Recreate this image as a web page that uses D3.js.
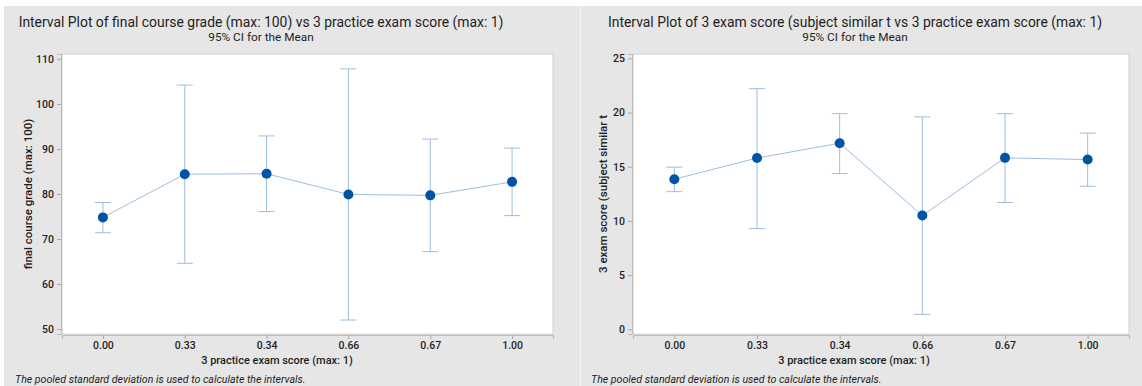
<!DOCTYPE html>
<html>
<head>
<meta charset="utf-8">
<script src="https://d3js.org/d3.v7.min.js"></script>
<style>
  body { margin: 0; background: #fff; }
  svg text { font-family: Roboto, "Open Sans", sans-serif; fill: #1e1e1e; }
</style>
</head>
<body>
<div id="vis"></div>
<script>

// x categories (3 practice exam score)
var categories = ["0.00", "0.33", "0.34", "0.66", "0.67", "1.00"];

// left panel: final course grade
var gradeMean = [74.8, 84.4, 84.5, 79.9, 79.7, 82.7];
var gradeLow  = [71.4, 64.6, 76.1, 52.0, 67.2, 75.2];
var gradeHigh = [78.1, 104.2, 92.9, 107.8, 92.2, 90.2];
var gradeTicks = [50, 60, 70, 80, 90, 100, 110];

// right panel: 3 exam score
var examMean = [13.85, 15.8, 17.17, 10.5, 15.82, 15.66];
var examLow  = [12.7, 9.3, 14.37, 1.38, 11.7, 13.2];
var examHigh = [14.96, 22.2, 19.9, 19.6, 19.9, 18.1];
var examTicks = [0, 5, 10, 15, 20, 25];

var svg = d3.select("#vis").append("svg")
  .attr("width", 1142)
  .attr("height", 386);

var panels = [
  {
    x0: 4, x1: 580,
    title: "Interval Plot of final course grade (max: 100) vs 3 practice exam score (max: 1)",
    titleX: 261,
    ylabel: "final course grade (max: 100)",
    ylabelX: 28,
    plot: {left: 62, right: 553},
    domain: [48.9, 111.1],
    ticks: gradeTicks,
    mean: gradeMean, low: gradeLow, high: gradeHigh,
    xlabelX: 277,
    noteX: 15
  },
  {
    x0: 581, x1: 1142,
    title: "Interval Plot of 3 exam score (subject similar t vs 3 practice exam score (max: 1)",
    titleX: 855,
    ylabel: "3 exam score (subject similar t",
    ylabelX: 603,
    plot: {left: 633, right: 1129},
    domain: [-0.43, 25.4],
    ticks: examTicks,
    mean: examMean, low: examLow, high: examHigh,
    xlabelX: 854,
    noteX: 591
  }
];

var plotTop = 54, plotBottom = 334;
var lineColor = "#9dbde0", dotColor = "#0054a6";

panels.forEach(function(p) {
  var g = svg.append("g");

  // grey panel background
  g.append("rect")
    .attr("x", p.x0).attr("y", 6)
    .attr("width", p.x1 - p.x0).attr("height", 380)
    .attr("fill", "#e6e6e6");

  // title and subtitle
  g.append("text")
    .attr("x", p.titleX).attr("y", 27)
    .attr("text-anchor", "middle")
    .style("font-size", "13.9px")
    .text(p.title);
  g.append("text")
    .attr("x", p.titleX).attr("y", 41)
    .attr("text-anchor", "middle")
    .style("font-size", "11.8px")
    .text("95% CI for the Mean");

  var x = d3.scalePoint()
    .domain(categories)
    .range([p.plot.left, p.plot.right])
    .padding(0.5);
  var y = d3.scaleLinear()
    .domain(p.domain)
    .range([plotBottom, plotTop]);

  // plot area
  g.append("rect")
    .attr("x", p.plot.left).attr("y", plotTop)
    .attr("width", p.plot.right - p.plot.left).attr("height", plotBottom - plotTop)
    .attr("fill", "#fff")
    .attr("stroke", "#d0d0d0");

  // axes
  var ya = g.append("g")
    .attr("transform", "translate(" + (p.plot.left - 1) + ",0)")
    .call(d3.axisLeft(y).tickValues(p.ticks).tickSize(4).tickPadding(3));
  var xa = g.append("g")
    .attr("transform", "translate(0," + (plotBottom + 1) + ")")
    .call(d3.axisBottom(x).tickSize(4).tickPadding(3));
  [ya, xa].forEach(function(a) {
    a.select(".domain").attr("stroke", "#bbb");
    a.selectAll(".tick line").attr("stroke", "#aaa");
    a.selectAll(".tick text")
      .style("font-family", "Roboto, sans-serif")
      .style("font-size", "10.5px")
      .style("font-weight", 500)
      .attr("fill", "#333");
  });

  // axis titles
  g.append("text")
    .attr("x", p.xlabelX).attr("y", 364)
    .attr("text-anchor", "middle")
    .style("font-size", "11px")
    .style("font-weight", 500)
    .text("3 practice exam score (max: 1)");
  g.append("text")
    .attr("transform", "translate(" + p.ylabelX + "," + ((plotTop + plotBottom) / 2) + ") rotate(-90)")
    .attr("text-anchor", "middle")
    .attr("dy", "0.35em")
    .style("font-size", "11.5px")
    .style("font-weight", 500)
    .text(p.ylabel);

  // footnote
  g.append("text")
    .attr("x", p.noteX).attr("y", 383)
    .style("font-size", "10.6px")
    .style("font-style", "italic")
    .text("The pooled standard deviation is used to calculate the intervals.");

  // connect line
  var line = d3.line()
    .x(function(d, i) { return x(categories[i]); })
    .y(function(d) { return y(d); });
  g.append("path")
    .datum(p.mean)
    .attr("d", line)
    .attr("fill", "none")
    .attr("stroke", lineColor)
    .attr("stroke-width", 1);

  // error bars
  var bars = g.selectAll(".bar")
    .data(categories)
    .enter().append("g")
    .attr("class", "bar");
  bars.append("line")
    .attr("x1", function(d) { return x(d); })
    .attr("x2", function(d) { return x(d); })
    .attr("y1", function(d, i) { return y(p.low[i]); })
    .attr("y2", function(d, i) { return y(p.high[i]); })
    .attr("stroke", lineColor);
  [p.low, p.high].forEach(function(arr) {
    bars.append("line")
      .attr("x1", function(d) { return x(d) - 8; })
      .attr("x2", function(d) { return x(d) + 8; })
      .attr("y1", function(d, i) { return y(arr[i]); })
      .attr("y2", function(d, i) { return y(arr[i]); })
      .attr("stroke", lineColor);
  });

  // mean markers
  g.selectAll(".dot")
    .data(categories)
    .enter().append("circle")
    .attr("class", "dot")
    .attr("cx", function(d) { return x(d); })
    .attr("cy", function(d, i) { return y(p.mean[i]); })
    .attr("r", 5)
    .attr("fill", dotColor);
});

// thin divider between panels
svg.append("line")
  .attr("x1", 580.5).attr("x2", 580.5)
  .attr("y1", 6).attr("y2", 386)
  .attr("stroke", "#f2f2f2");

</script>
</body>
</html>
